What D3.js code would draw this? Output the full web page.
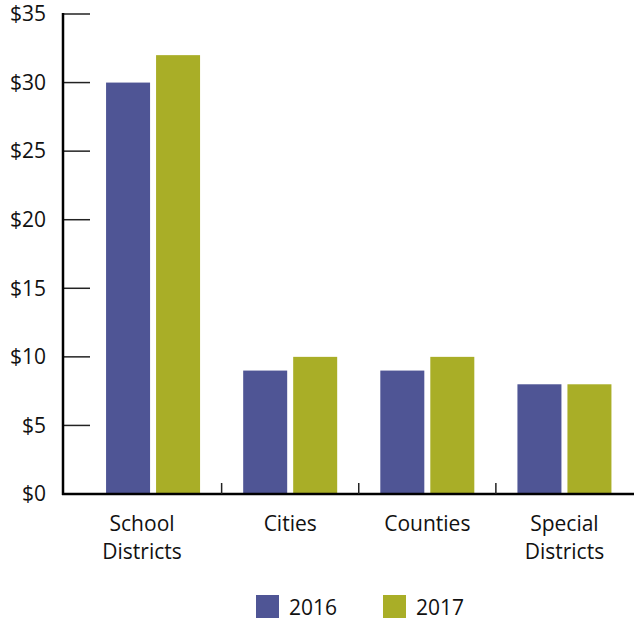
<!DOCTYPE html>
<html><head><meta charset="utf-8">
<script src="https://cdn.jsdelivr.net/npm/d3@7"></script>
<style>body{margin:0;background:#fff}svg{display:block}text{font-family:"Open Sans",sans-serif;fill:#111}</style>
</head><body>
<script>
const categories = [["School","Districts"],["Cities"],["Counties"],["Special","Districts"]];
const years = ["2016","2017"];
const values2016 = [30, 9, 9, 8];
const values2017 = [32, 10, 10, 8];
const yTicks = [0,5,10,15,20,25,30,35];
const colors = ["#4f5595","#a9ae27"];

const W=634,H=620;
const svg=d3.select("body").append("svg").attr("width",W).attr("height",H);
const x=d3.scaleBand().domain(d3.range(categories.length)).range([84.5,633]).paddingInner(0).paddingOuter(0);
const y=d3.scaleLinear().domain([0,35]).range([494,14]);
const fs=21;

// clipped title
svg.append("text").attr("x",267).attr("y",-3).attr("text-anchor","middle").style("font-size",fs+"px").text("(Dollars in Billions)");

// y ticks
svg.selectAll(".yt").data(yTicks).join("line").attr("x1",63).attr("x2",90)
  .attr("y1",d=>y(d)).attr("y2",d=>y(d)).attr("stroke","#222").attr("stroke-width",1.5);
svg.selectAll(".yl").data(yTicks).join("text").attr("x",46).attr("y",d=>y(d)).attr("dy","0.35em")
  .attr("text-anchor","end").style("font-size",fs+"px").text(d=>"$"+d);

// bars
const series=[values2016,values2017];
const bw=44, gap=6;
series.forEach((vals,si)=>{
  svg.selectAll(".b"+si).data(vals).join("rect")
    .attr("x",(d,i)=>x(i)+x.bandwidth()/2-bw-gap/2+si*(bw+gap))
    .attr("width",bw).attr("y",d=>y(d)).attr("height",d=>y(0)-y(d)).attr("fill",colors[si]);
});

// axes lines
svg.append("line").attr("x1",63).attr("x2",63).attr("y1",13).attr("y2",495).attr("stroke","#000").attr("stroke-width",2.5);
svg.append("line").attr("x1",62).attr("x2",634).attr("y1",494).attr("y2",494).attr("stroke","#000").attr("stroke-width",2.5);
// x boundary ticks
svg.selectAll(".xt").data(d3.range(1,categories.length)).join("line")
  .attr("x1",i=>x(i)).attr("x2",i=>x(i)).attr("y1",483).attr("y2",494).attr("stroke","#222").attr("stroke-width",1.5);

// category labels
categories.forEach((lines,i)=>{
  const t=svg.append("text").attr("text-anchor","middle").style("font-size",fs+"px");
  lines.forEach((l,j)=>t.append("tspan").attr("x",x(i)+x.bandwidth()/2-(i===0?11:0)).attr("y",531+j*28).text(l));
});

// legend
const lg=[{x:256},{x:383}];
years.forEach((yr,i)=>{
  svg.append("rect").attr("x",lg[i].x).attr("y",595).attr("width",23).attr("height",23).attr("fill",colors[i]);
  svg.append("text").attr("x",lg[i].x+33).attr("y",615).style("font-size",fs+"px").text(yr);
});
</script>
</body></html>
